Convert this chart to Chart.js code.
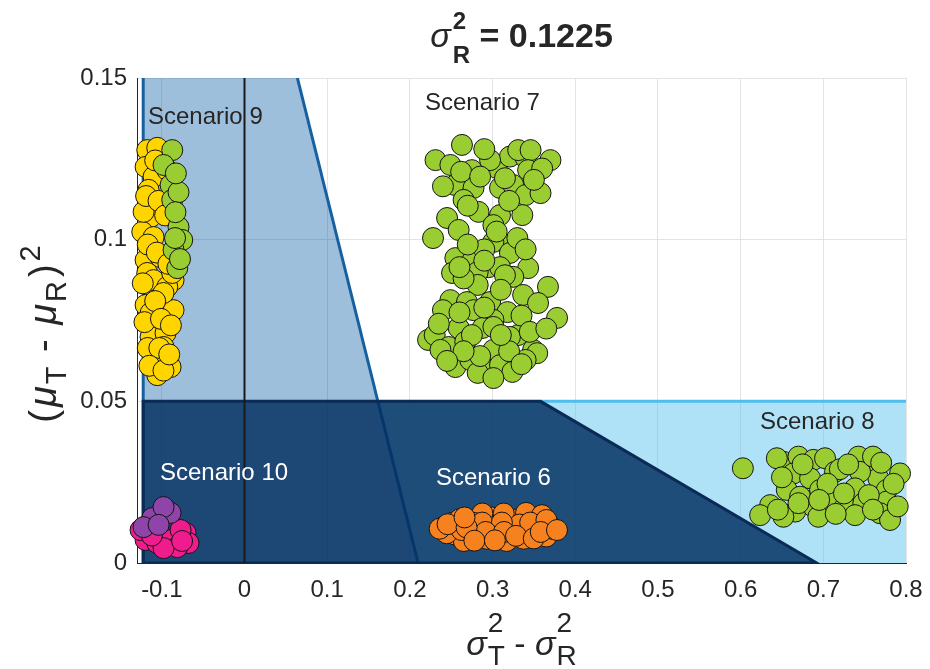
<!DOCTYPE html>
<html>
<head>
<meta charset="utf-8">
<script src="https://cdn.jsdelivr.net/npm/chart.js@4.4.0/dist/chart.umd.min.js"></script>
<style>
  html, body { margin: 0; padding: 0; background: #ffffff; }
  canvas { display: block; }
</style>
</head>
<body>
<canvas id="chart" width="930" height="669"></canvas>
<script>
// ---- axis ticks ----
const xTicks = [-0.1, 0, 0.1, 0.2, 0.3, 0.4, 0.5, 0.6, 0.7, 0.8];
const xTickLabels = ['-0.1', '0', '0.1', '0.2', '0.3', '0.4', '0.5', '0.6', '0.7', '0.8'];
const yTicks = [0, 0.05, 0.1, 0.15];
const yTickLabels = ['0', '0.05', '0.1', '0.15'];
const sigmaR2Text = '0.1225';

// ---- acceptance regions (vertices in data units) ----
const regionScaled = [[-0.1225, 0], [-0.1225, 0.15], [0.064, 0.15], [0.21, 0]];
const regionScaledLeftEdge = [[-0.1225, 0], [-0.1225, 0.15]];
const regionScaledDiagonal = [[0.064, 0.15], [0.21, 0]];
const regionNavy = [[-0.1225, 0], [-0.1225, 0.05], [0.358, 0.05], [0.692, 0], [-0.1225, 0]];
const regionCyan = [[0.1613, 0.05], [0.8, 0.05], [0.8, 0], [0.21, 0], [0.1613, 0.05]];
const regionCyanTop = [[0.358, 0.05], [0.8, 0.05]];
const zeroLine = [[0, 0], [0, 0.15]];

// ---- simulated scenarios (sigmaT^2 - sigmaR^2, (muT - muR)^2) ----
const scen7 = [
  [0.263,0.1293],[0.231,0.1246],[0.249,0.1231],[0.275,0.1215],[0.305,0.1222],[0.321,0.1257],[0.340,0.1253],[0.331,0.1277],[0.346,0.1277],[0.370,0.1246],
  [0.343,0.1215],[0.297,0.1246],[0.255,0.1169],[0.277,0.1160],[0.309,0.1160],[0.325,0.1169],[0.340,0.1138],[0.358,0.1144],[0.283,0.1086],[0.309,0.1076],
  [0.336,0.1076],[0.245,0.1067],[0.259,0.1030],[0.228,0.1005],[0.301,0.1045],[0.265,0.1123],[0.318,0.0983],[0.301,0.0993],[0.321,0.0959],[0.343,0.0912],
  [0.255,0.0943],[0.276,0.0937],[0.295,0.0915],[0.251,0.0897],[0.282,0.0900],[0.309,0.0915],[0.282,0.0860],[0.325,0.0885],[0.367,0.0854],[0.337,0.0829],
  [0.355,0.0804],[0.378,0.0758],[0.249,0.0813],[0.269,0.0807],[0.240,0.0782],[0.277,0.0782],[0.297,0.0807],[0.318,0.0776],[0.301,0.0752],[0.259,0.0727],
  [0.288,0.0727],[0.301,0.0730],[0.331,0.0705],[0.222,0.0690],[0.230,0.0705],[0.247,0.0668],[0.267,0.0684],[0.301,0.0659],[0.321,0.0699],[0.349,0.0659],
  [0.354,0.0649],[0.255,0.0606],[0.273,0.0628],[0.294,0.0597],[0.309,0.0612],[0.324,0.0591],[0.340,0.0628],[0.282,0.0588],[0.301,0.0572],[0.237,0.0659],
  [0.290,0.1280],[0.315,0.1190],[0.360,0.1220],[0.262,0.1210],[0.285,0.1195],[0.350,0.1185],[0.320,0.1120],[0.270,0.1105],[0.240,0.1165],
  [0.290,0.0970],[0.305,0.1025],[0.270,0.0985],[0.330,0.1005],[0.315,0.0890],[0.265,0.0880],[0.340,0.0970],[0.290,0.0935],[0.260,0.0915],
  [0.260,0.0775],[0.310,0.0845],[0.335,0.0765],[0.290,0.0790],[0.345,0.0715],[0.365,0.0725],[0.275,0.0705],[0.235,0.0740],[0.320,0.0655],
  [0.285,0.0640],[0.335,0.0615],[0.265,0.0655],[0.245,0.0625],[0.310,0.0705]
];
const scen9Yellow = [
  [-0.1176,0.1277],[-0.1055,0.1284],[-0.1196,0.1225],[-0.1100,0.1194],[-0.1160,0.1154],[-0.0934,0.1215],[-0.1136,0.1070],[-0.1236,0.1024],[-0.1100,0.1008],
  [-0.1196,0.0937],[-0.1015,0.0946],[-0.1176,0.0897],[-0.1100,0.0875],[-0.0858,0.0875],[-0.1196,0.0798],[-0.1015,0.0823],[-0.0858,0.0782],[-0.1136,0.0773],
  [-0.1136,0.0699],[-0.0955,0.0711],[-0.1100,0.0628],[-0.0894,0.0606],[-0.1055,0.0581],[-0.0934,0.0854],[-0.1220,0.1086],[-0.0874,0.0897],[-0.0979,0.0668],
  [-0.1080,0.1245],[-0.1190,0.1135],[-0.1040,0.1120],[-0.0960,0.1075],[-0.1170,0.0985],[-0.1060,0.0960],[-0.0920,0.0925],[-0.1230,0.0865],[-0.0980,0.0835],
  [-0.1080,0.0810],[-0.1210,0.0745],[-0.1010,0.0755],[-0.0890,0.0735],[-0.1170,0.0665],[-0.1030,0.0665],[-0.1150,0.0610],[-0.0980,0.0595],[-0.0910,0.0645]
];
const scen9Green = [
  [-0.0874,0.1277],[-0.0979,0.1231],[-0.0894,0.1169],[-0.0874,0.1123],[-0.0798,0.1147],[-0.0798,0.1039],[-0.0753,0.0999],[-0.0858,0.0968],[-0.0813,0.0912],
  [-0.0830,0.1205],[-0.0835,0.1085],[-0.0780,0.0940],[-0.0840,0.1005]
];
const scen10Purple = [
  [-0.1115,0.0139],[-0.0894,0.0155],[-0.0979,0.0173],[-0.1221,0.0111],[-0.1039,0.0118]
];
const scen10Magenta = [
  [-0.1196,0.0071],[-0.1055,0.0062],[-0.0894,0.0071],[-0.0713,0.0093],[-0.0677,0.0062],[-0.0813,0.0049],[-0.0979,0.0046],[-0.1257,0.0102],[-0.0773,0.0102],
  [-0.1120,0.0085],[-0.0755,0.0068]
];
const scen6 = [
  [0.2515,0.0124],[0.2721,0.0131],[0.2735,0.0080],[0.2993,0.0141],[0.3013,0.0095],[0.3220,0.0092],[0.3303,0.0135],[0.3478,0.0095],[0.3509,0.0141],[0.3685,0.0117],
  [0.2412,0.0112],[0.2877,0.0153],[0.3135,0.0153],[0.3405,0.0155],[0.3598,0.0148],[0.2549,0.0088],[0.2928,0.0075],[0.3169,0.0068],[0.3375,0.0075],[0.3650,0.0082],
  [0.2652,0.0068],[0.2446,0.0092],[0.2825,0.0106],[0.3065,0.0117],[0.3271,0.0106],[0.2360,0.0106],[0.3715,0.0106],[0.2601,0.0135],[0.3327,0.0119],[0.2776,0.0124],
  [0.3549,0.0112],[0.2626,0.0102],[0.2874,0.0125],[0.3113,0.0125],[0.3455,0.0125],[0.2917,0.0096],[0.3139,0.0096],[0.2456,0.0120],[0.2686,0.0110],[0.3284,0.0084],
  [0.3498,0.0076],[0.3651,0.0133],[0.2661,0.0141],[0.2780,0.0069],[0.3028,0.0070],[0.3583,0.0096],[0.3779,0.0102]
];
const scen8 = [
  [0.6027,0.0293],[0.6517,0.0313],[0.6699,0.0329],[0.6880,0.0319],[0.7021,0.0324],[0.6638,0.0277],[0.6840,0.0262],[0.7142,0.0282],[0.7424,0.0329],[0.7605,0.0308],
  [0.7928,0.0277],[0.7665,0.0262],[0.7444,0.0282],[0.6558,0.0226],[0.6961,0.0226],[0.7384,0.0231],[0.7767,0.0226],[0.6357,0.0179],[0.6659,0.0159],[0.6880,0.0174],
  [0.7082,0.0195],[0.7263,0.0174],[0.7484,0.0185],[0.7767,0.0190],[0.6236,0.0148],[0.6517,0.0143],[0.6940,0.0143],[0.7384,0.0148],[0.7686,0.0154],[0.6719,0.0205],
  [0.7601,0.0329],[0.7807,0.0133],[0.6438,0.0324],[0.6750,0.0305],[0.7200,0.0290],[0.7700,0.0310],[0.7850,0.0245],[0.7050,0.0245],[0.6700,0.0185],[0.7150,0.0152],
  [0.7550,0.0210],[0.6500,0.0265],[0.7900,0.0175],[0.7300,0.0305],[0.6450,0.0165],[0.6950,0.0195],[0.7600,0.0165],[0.7250,0.0215]
];

const FONT = '"Liberation Sans", Arial, Helvetica, sans-serif';
const TEXT = '#262626';

const toPts = arr => arr.map(([x, y]) => ({ x, y }));

function cloud(arr, color, order) {
  return {
    type: 'scatter', data: toPts(arr), order, clip: false,
    pointRadius: 10.5, pointHoverRadius: 10.5, pointBorderWidth: 1,
    pointBackgroundColor: color, pointBorderColor: '#141414'
  };
}
function area(arr, fillColor, order) {
  return {
    type: 'line', data: toPts(arr), order, showLine: true, fill: 'shape',
    backgroundColor: fillColor, borderWidth: 0, borderColor: 'rgba(0,0,0,0)', pointRadius: 0, tension: 0
  };
}
function edge(arr, color, width, order) {
  return {
    type: 'line', data: toPts(arr), order, showLine: true, fill: false,
    borderColor: color, borderWidth: width, pointRadius: 0, tension: 0
  };
}

// Scenario captions, anchored at the left end of each caption
const captions = [
  { text: 'Scenario 9',  x: -0.1167, y: 0.1379, color: TEXT },
  { text: 'Scenario 7',  x: 0.2183,  y: 0.1420, color: TEXT },
  { text: 'Scenario 8',  x: 0.6234,  y: 0.0436, color: TEXT },
  { text: 'Scenario 6',  x: 0.2316,  y: 0.0263, color: '#ffffff' },
  { text: 'Scenario 10', x: -0.1022, y: 0.0278, color: '#ffffff' }
];

// Draws text made of columns; each column holds parts drawn at the same x
function drawRich(ctx, cols, x, y, angle) {
  ctx.save();
  ctx.translate(x, y);
  ctx.rotate(angle);
  ctx.textAlign = 'left';
  ctx.textBaseline = 'alphabetic';
  ctx.fillStyle = TEXT;
  let total = 0;
  const widths = cols.map(col => {
    let w = 0;
    col.forEach(p => {
      ctx.font = p.font;
      w = Math.max(w, ctx.measureText(p.t).width + (p.dx || 0) + (p.gap || 0));
    });
    total += w;
    return w;
  });
  let cx = -total / 2;
  cols.forEach((col, i) => {
    col.forEach(p => { ctx.font = p.font; ctx.fillText(p.t, cx + (p.dx || 0), p.dy || 0); });
    cx += widths[i];
  });
  ctx.restore();
}
const font = (size, style) => (style ? style + ' ' : '') + size + 'px ' + FONT;

const annotations = {
  id: 'annotations',
  afterDatasetsDraw(chart) {
    const { ctx, scales } = chart;
    ctx.save();
    ctx.font = font(24);
    ctx.textAlign = 'left';
    ctx.textBaseline = 'middle';
    captions.forEach(c => {
      ctx.fillStyle = c.color;
      ctx.fillText(c.text, scales.x.getPixelForValue(c.x), scales.y.getPixelForValue(c.y));
    });
    ctx.restore();
  },
  afterDraw(chart) {
    const { ctx, chartArea } = chart;
    const midX = (chartArea.left + chartArea.right) / 2;
    // title: sigma_R^2 = value
    drawRich(ctx, [
      [{ t: '\u03C3', font: font(34, 'italic') }],
      [{ t: '2', font: font(24, 'bold'), dy: -18, dx: 2 }, { t: 'R', font: font(24, 'bold'), dy: 16, dx: 2 }],
      [{ t: ' = ' + sigmaR2Text, font: font(34, 'bold') }]
    ], midX, 47, 0);
    // x axis title: sigma_T^2 - sigma_R^2
    drawRich(ctx, [
      [{ t: '\u03C3', font: font(34, 'italic') }],
      [{ t: '2', font: font(28), dy: -23, dx: 1 }, { t: 'T', font: font(28), dy: 10, dx: 1 }],
      [{ t: ' - ', font: font(34) }],
      [{ t: '\u03C3', font: font(34, 'italic') }],
      [{ t: '2', font: font(28), dy: -23, dx: 1 }, { t: 'R', font: font(28), dy: 10, dx: 1 }]
    ], midX, 655, 0);
    // y axis title: (mu_T - mu_R)^2
    drawRich(ctx, [
      [{ t: '(', font: font(38), gap: 3 }],
      [{ t: '\u03BC', font: font(38, 'italic'), gap: 2 }],
      [{ t: 'T', font: font(29), dy: 10, gap: 4 }],
      [{ t: ' - ', font: font(38), gap: 4 }],
      [{ t: '\u03BC', font: font(38, 'italic'), gap: 2 }],
      [{ t: 'R', font: font(29), dy: 10, gap: 4 }],
      [{ t: ')', font: font(38), gap: 3 }],
      [{ t: '2', font: font(29), dy: -16 }]
    ], 56, 334, -Math.PI / 2);
  }
};

new Chart(document.getElementById('chart').getContext('2d'), {
  type: 'scatter',
  data: {
    datasets: [
      cloud(scen10Purple, '#8E44A8', 1),
      cloud(scen10Magenta, '#EE1C8C', 2),
      cloud(scen9Green, '#9ACD32', 3),
      cloud(scen9Yellow, '#FFD500', 4),
      cloud(scen6, '#F6821F', 5),
      cloud(scen7, '#9ACD32', 6),
      cloud(scen8, '#9ACD32', 7),
      edge(zeroLine, '#1a1a1a', 2, 10),
      edge(regionNavy, '#0b2b57', 3, 20),
      area(regionNavy, 'rgba(0,45,95,0.82)', 21),
      edge(regionScaledLeftEdge, '#17609f', 3, 30),
      edge(regionScaledDiagonal, '#17609f', 3, 31),
      area(regionScaled, 'rgba(0,87,160,0.38)', 32),
      edge(regionCyanTop, '#4DBEEE', 3, 40),
      area(regionCyan, 'rgba(77,190,238,0.45)', 41)
    ]
  },
  options: {
    responsive: false,
    animation: false,
    devicePixelRatio: 1,
    layout: { padding: { left: 0, right: 24, top: 78, bottom: 0 } },
    plugins: {
      legend: { display: false },
      tooltip: { enabled: false },
      title: { display: false }
    },
    scales: {
      x: {
        type: 'linear', min: -0.13, max: 0.8,
        afterBuildTicks: s => { s.ticks = xTicks.map(v => ({ value: v })); },
        afterFit: s => { s.height = 106; s.paddingLeft = 0; s.paddingRight = 0; },
        grid: { color: '#e3e3e3', lineWidth: 1, drawTicks: false },
        border: { display: true, color: TEXT, width: 1 },
        ticks: {
          padding: 13, color: TEXT, maxRotation: 0, autoSkip: false,
          font: { family: FONT, size: 24 },
          callback: v => xTickLabels[xTicks.indexOf(v)] ?? ''
        }
      },
      y: {
        type: 'linear', min: 0, max: 0.15,
        afterBuildTicks: s => { s.ticks = yTicks.map(v => ({ value: v })); },
        afterFit: s => { s.width = 137; s.paddingTop = 0; s.paddingBottom = 0; },
        grid: { color: '#e3e3e3', lineWidth: 1, drawTicks: false },
        border: { display: true, color: TEXT, width: 1 },
        ticks: {
          padding: 10, color: TEXT, autoSkip: false,
          font: { family: FONT, size: 24 },
          callback: v => yTickLabels[yTicks.indexOf(v)] ?? ''
        }
      }
    }
  },
  plugins: [annotations]
});
</script>
</body>
</html>
